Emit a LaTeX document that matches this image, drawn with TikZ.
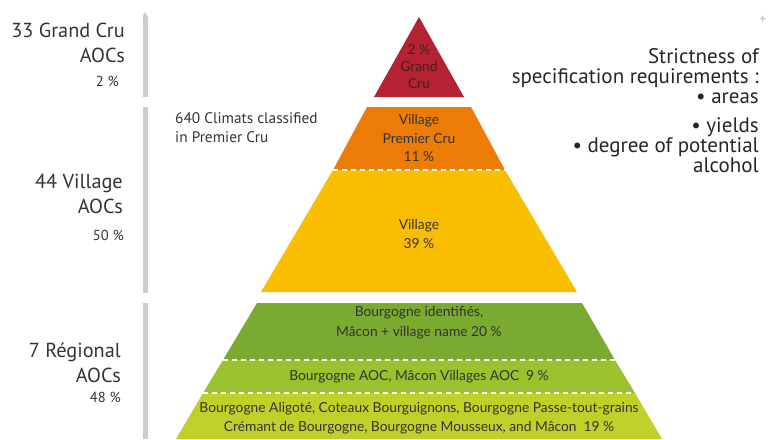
\documentclass[tikz,border=0pt]{standalone}
\usepackage{fontspec}
\setmainfont{PT Sans}
\newfontfamily\pyrfont{Lato}
\usetikzlibrary{arrows.meta,positioning}

\definecolor{grandcru}{RGB}{181,34,52}
\definecolor{premier}{RGB}{236,124,6}
\definecolor{village}{RGB}{250,190,0}
\definecolor{ident}{RGB}{122,170,48}
\definecolor{regaoc}{RGB}{154,193,46}
\definecolor{regbase}{RGB}{193,208,40}
\definecolor{bargray}{RGB}{204,204,204}
\definecolor{inkgray}{RGB}{52,52,52}

\begin{document}
\begin{tikzpicture}[x=1pt, y=-1pt, >=Stealth]

    \tikzstyle{lvl}  = [font=\pyrfont\fontsize{13.8}{18.5}\selectfont, text=inkgray, align=center, inner sep=0pt]
    \tikzstyle{aoc}  = [font=\fontsize{20.3}{25}\selectfont, text=inkgray, align=right, anchor=east, inner sep=0pt]
    \tikzstyle{pct}  = [font=\fontsize{14.5}{16}\selectfont, text=inkgray, anchor=east, inner sep=0pt]
    \tikzstyle{bar}  = [draw=bargray, line width=5pt]
    \tikzstyle{sep}  = [draw=white, line width=1.4pt, dash pattern=on 5pt off 4pt]

    \useasboundingbox (0,0) rectangle (775,439);

    % pyramid layers
    \fill[grandcru] (419,17) -- (464,97) -- (374,97) -- cycle;
    \fill[premier]  (367,107) -- (471,107) -- (505,170) -- (333,170) -- cycle;
    \fill[village]  (333,170) -- (505,170) -- (577,292) -- (261,292) -- cycle;
    \fill[ident]    (257,303) -- (582,303) -- (615,360) -- (223,360) -- cycle;
    \fill[regaoc]   (223,360) -- (615,360) -- (635,393) -- (203,393) -- cycle;
    \fill[regbase]  (203,393) -- (635,393) -- (662,439) -- (176,439) -- cycle;

    \coordinate (s1l) at (333,170);  \coordinate (s1r) at (505,170);
    \coordinate (s2l) at (223,360);  \coordinate (s2r) at (615,360);
    \coordinate (s3l) at (203,393);  \coordinate (s3r) at (635,393);
    \draw[sep] (s1l) -- (s1r);
    \draw[sep] (s2l) -- (s2r);
    \draw[sep] (s3l) -- (s3r);

    \node (gcru)    [lvl, font=\pyrfont\fontsize{13.8}{17}\selectfont, text={rgb,255:red,72;green,30;blue,34}] at (419,67) {2 \%\\Grand\\Cru};
    \node (pcru)    [lvl] at (419,138)  {Village\\Premier Cru\\11 \%};
    \node (vill)    [lvl] at (419,234)  {Village\\39 \%};
    \node (identif) [lvl, font=\pyrfont\fontsize{13.8}{20}\selectfont] at (419,323) {Bourgogne identifiés,\\Mâcon + village name 20 \%};
    \node (bgaoc)   [lvl] at (419,377)  {Bourgogne AOC, Mâcon Villages AOC\enspace 9 \%};
    \node (bgbase)  [lvl] at (419,418)  {Bourgogne Aligoté, Coteaux Bourguignons, Bourgogne Passe-tout-grains\\Crémant de Bourgogne, Bourgogne Mousseux, and Mâcon\enspace 19 \%};

    % left scale
    \coordinate (b1top) at (145,12);   \coordinate (b1bot) at (145,97);
    \coordinate (b2top) at (145,107);  \coordinate (b2bot) at (145,293);
    \coordinate (b3top) at (145,303);  \coordinate (b3bot) at (145,439);
    \draw[bar, -{Triangle[length=5pt, width=5pt]}] (b1bot) -- (b1top);
    \draw[bar] (b2top) -- (b2bot);
    \draw[bar] (b3top) -- (b3bot);

    \node (gcaoc)  [aoc] at (125,43)  {33 Grand Cru\\AOCs};
    \node (gcpct)  [pct] at (119,81)  {2 \%};
    \node (vaoc)   [aoc] at (123,194) {44 Village\\AOCs};
    \node (vpct)   [pct] at (124,235) {50 \%};
    \node (raoc)   [aoc] at (121,363) {7 Régional\\AOCs};
    \node (rpct)   [pct] at (121,397) {48 \%};

    \node (climats) [font=\fontsize{15.3}{19}\selectfont, text=inkgray, align=left, anchor=west, inner sep=0pt] at (175,128) {640 Climats classified\\in Premier Cru};

    % strictness
    \node (strict) [font=\fontsize{21}{20}\selectfont, text=black!85, align=right, anchor=east, inner sep=0pt] at (759,111)
        {Strictness of\\specification requirements :\\• areas\\[9pt]• yields\\• degree of potential\\alcohol};
    \node (plus) [text=black!30, font=\fontsize{13}{13}\selectfont, inner sep=0pt] at (763,20) {+};

\end{tikzpicture}
\end{document}
